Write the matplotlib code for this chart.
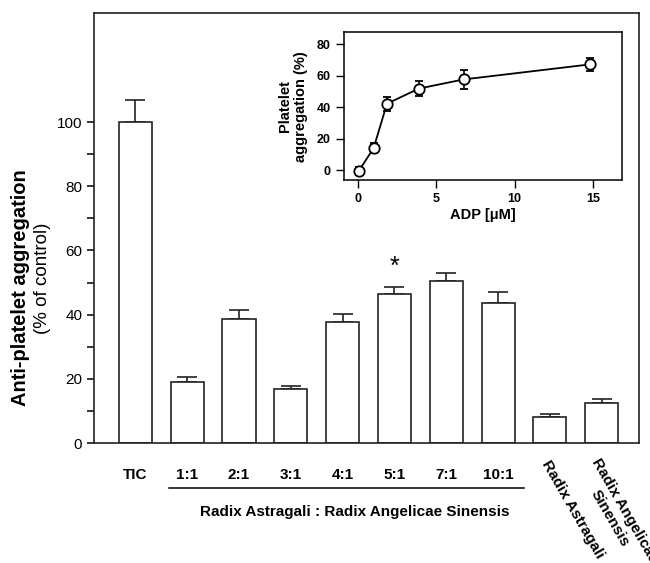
import numpy as np
import matplotlib
matplotlib.use('Agg')
import matplotlib.pyplot as plt
import matplotlib.transforms as mtransforms

plt.rcParams['font.family'] = ['Liberation Sans', 'DejaVu Sans']

# Main bar chart data
groups = ['TIC', '1:1', '2:1', '3:1', '4:1', '5:1', '7:1', '10:1',
          'Radix Astragali', 'Radix Angelicae\nSinensis']
means = [100, 19, 38.7, 16.8, 37.6, 46.3, 50.5, 43.7, 8.0, 12.6]
errs = [7, 1.5, 2.6, 0.9, 2.6, 2.4, 2.6, 3.4, 1.1, 1.2]

# Inset: ADP dose response
adp = [0.05, 1.0, 1.85, 3.9, 6.75, 14.8]
aggregation = [-0.5, 14.0, 42.2, 51.8, 57.6, 67.1]
agg_err = [2.3, 3.0, 4.5, 4.6, 6.2, 3.9]

fig = plt.figure(figsize=(6.5, 5.63), dpi=100)
ax = fig.add_axes([0.1446, 0.2131, 0.8385, 0.7638])

x = np.arange(len(groups))
ax.bar(x, means, width=0.64, color='white', edgecolor='#222222', linewidth=1.2, zorder=2)
ax.errorbar(x, means, yerr=[np.zeros(len(errs)), errs], fmt='none', ecolor='#222222',
            elinewidth=1.2, capsize=7, capthick=1.2, zorder=1)

ax.set_xlim(-0.8, 9.72)
ax.set_ylim(0, 134)
ax.set_yticks(np.arange(0, 101, 20))
ax.set_yticks(np.arange(10, 100, 20), minor=True)
ax.tick_params(axis='y', which='both', direction='out', length=5, width=1.1, labelsize=11)
ax.set_xticks(x[:8])
ax.set_xticklabels(groups[:8], fontweight='bold', fontsize=11)
ax.tick_params(axis='x', length=0, pad=18)
for s in ax.spines.values():
    s.set_linewidth(1.2)
    s.set_color('#222222')

# rotated labels for the single herbs
trans = mtransforms.blended_transform_factory(ax.transData, ax.transAxes)
ax.text(8.02, -0.035, groups[8], transform=trans, rotation=-60, rotation_mode='anchor',
        ha='left', va='top', fontsize=11, fontweight='bold')
ax.text(8.98, -0.03, groups[9], transform=trans, rotation=-60, rotation_mode='anchor',
        ha='left', va='top', fontsize=11, fontweight='bold', multialignment='center')

# group bracket under the ratios
ax.plot([0.645, 7.5], [-0.105, -0.105], transform=trans, color='black', lw=1.1, clip_on=False)
ax.text(4.23, -0.16, 'Radix Astragali : Radix Angelicae Sinensis', transform=trans,
        ha='center', va='center', fontsize=11, fontweight='bold')

# significance mark
ax.text(5, 55, '*', ha='center', va='center', fontsize=18)

fig.text(0.032, 0.49, 'Anti-platelet aggregation', rotation=90, ha='center', va='center',
         fontsize=14.5, fontweight='bold')
fig.text(0.066, 0.506, '(% of control)', rotation=90, ha='center', va='center', fontsize=13.5)

# inset
axin = fig.add_axes([0.529, 0.680, 0.428, 0.263])
axin.errorbar(adp, aggregation, yerr=agg_err, color='black', lw=1.3, elinewidth=1.2,
              capsize=3, capthick=1.2, marker='o', markersize=7.5, markerfacecolor='white',
              markeredgecolor='black', markeredgewidth=1.3)
axin.set_xlim(-0.9, 16.85)
axin.set_ylim(-6.3, 87.6)
axin.set_xticks([0, 5, 10, 15])
axin.set_yticks([0, 20, 40, 60, 80])
axin.tick_params(direction='out', length=6, width=1.0, labelsize=9)
for lab in axin.get_xticklabels() + axin.get_yticklabels():
    lab.set_fontweight('bold')
for s in axin.spines.values():
    s.set_linewidth(1.1)
axin.set_xlabel('ADP [μM]', fontsize=10.5, fontweight='bold', labelpad=2)
axin.set_ylabel('Platelet\naggregation (%)', fontsize=10.5, fontweight='bold', labelpad=6)

fig.savefig('out.png', dpi=100)
